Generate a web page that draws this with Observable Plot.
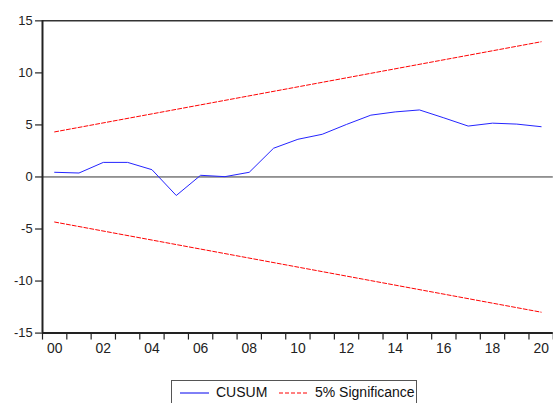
<!DOCTYPE html>
<html>
<head>
<meta charset="utf-8">
<script src="https://cdn.jsdelivr.net/npm/d3@7"></script>
<script src="https://cdn.jsdelivr.net/npm/@observablehq/plot@0.6"></script>
<style>
  html, body { margin: 0; padding: 0; background: #fff; overflow: hidden; width: 553px; height: 403px; }
  #wrap { position: relative; width: 553px; height: 403px; overflow: hidden; font-family: "Liberation Sans", Arial, sans-serif; }
  #chart { position: absolute; left: 0; top: 0; }
  #legend { position: absolute; left: 171px; top: 380px; width: 246px; height: 40px; border: 1px solid #555; box-sizing: border-box; font-size: 14px; color: #111; }
  #legend .item { position: absolute; top: 3px; display: flex; align-items: center; white-space: nowrap; }
</style>
</head>
<body>
<div id="wrap">
  <div id="chart"></div>
  <div id="legend">
    <div class="item" style="left:8px"><svg width="30" height="14"><line x1="0" x2="29" y1="8" y2="8" stroke="#0000ee" stroke-width="1"/></svg><span style="margin-left:6px">CUSUM</span></div>
    <div class="item" style="left:107px"><svg width="30" height="14"><line x1="0" x2="29" y1="8" y2="8" stroke="#ff0000" stroke-width="1" stroke-dasharray="4,2"/></svg><span style="margin-left:6px">5% Significance</span></div>
  </div>
</div>
<script>
// Data
const years = [2000, 2001, 2002, 2003, 2004, 2005, 2006, 2007, 2008, 2009, 2010,
               2011, 2012, 2013, 2014, 2015, 2016, 2017, 2018, 2019, 2020];
const cusum = [0.45, 0.38, 1.4, 1.4, 0.7, -1.78, 0.16, 0.03, 0.45, 2.76, 3.62,
               4.1, 5.05, 5.94, 6.25, 6.44, 5.68, 4.89, 5.17, 5.08, 4.83];
const boundYears = [2000, 2020];
const upperBound = [4.33, 12.99];
const lowerBound = [-4.33, -12.99];
const yTicks = [-15, -10, -5, 0, 5, 10, 15];
const xLabelYears = [2000, 2002, 2004, 2006, 2008, 2010, 2012, 2014, 2016, 2018, 2020];
const xLabels = ["00", "02", "04", "06", "08", "10", "12", "14", "16", "18", "20"];

const cusumData = years.map((yr, i) => ({year: yr, value: cusum[i]}));
const upperData = boundYears.map((yr, i) => ({year: yr, value: upperBound[i]}));
const lowerData = boundYears.map((yr, i) => ({year: yr, value: lowerBound[i]}));
const boundaries = years.map(y => y - 0.5).concat([years[years.length - 1] + 0.5]);
const xMin = boundaries[0], xMax = boundaries[boundaries.length - 1];
const labelMap = new Map(xLabelYears.map((y, i) => [y, xLabels[i]]));

const chart = Plot.plot({
  width: 557,
  height: 365,
  marginLeft: 42.3,
  marginRight: 0.2,
  marginTop: 20.5,
  marginBottom: 30,
  style: {fontFamily: "'Liberation Sans', Arial, sans-serif", color: "#222", background: "transparent"},
  x: {type: "linear", domain: [xMin, xMax], axis: null, label: null},
  y: {domain: [-15, 15], axis: null, label: null},
  marks: [
    Plot.axisY(yTicks, {label: null, tickSize: 7, tickPadding: 3, fontSize: 13, stroke: "#222", strokeWidth: 1.2, tickFormat: d => String(d)}),
    Plot.axisX(boundaries, {label: null, tickSize: 7, tickFormat: () => "", stroke: "#222", strokeWidth: 1.2}),
    Plot.axisX(xLabelYears, {label: null, tickSize: 0, tickPadding: 10, fontSize: 14, tickFormat: d => labelMap.get(d)}),
    Plot.ruleY([0], {stroke: "#333", strokeWidth: 1}),
    Plot.ruleY([15], {stroke: "#333", strokeWidth: 1.5}),
    Plot.ruleY([-15], {stroke: "#222", strokeWidth: 2}),
    Plot.ruleX([xMin], {stroke: "#222", strokeWidth: 2}),
    Plot.line(upperData, {x: "year", y: "value", stroke: "#ff0000", strokeWidth: 1, strokeDasharray: "4,2"}),
    Plot.line(lowerData, {x: "year", y: "value", stroke: "#ff0000", strokeWidth: 1, strokeDasharray: "4,2"}),
    Plot.line(cusumData, {x: "year", y: "value", stroke: "#2222ff", strokeWidth: 1})
  ]
});
document.getElementById("chart").appendChild(chart);
</script>
</body>
</html>
